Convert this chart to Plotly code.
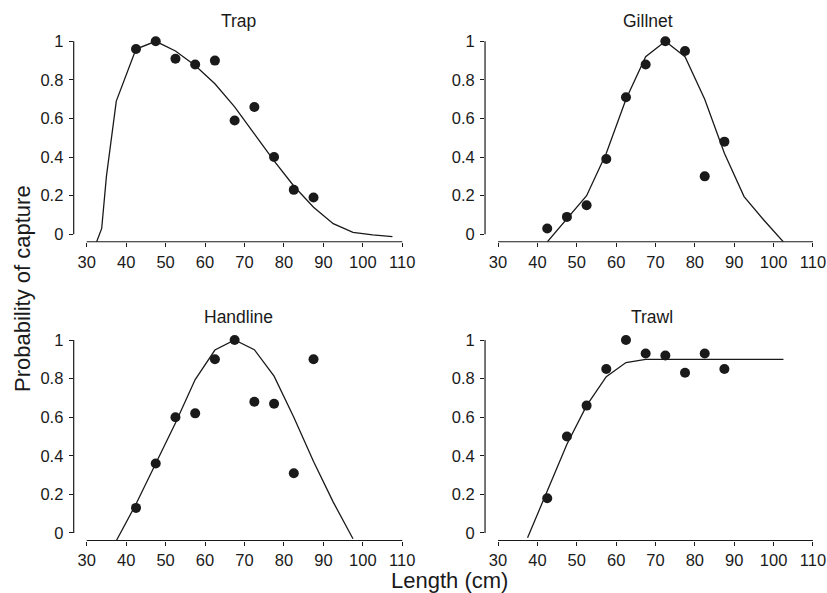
import plotly.graph_objects as go

# ---- data ----
panels = ["Trap", "Gillnet", "Handline", "Trawl"]
obs_x = [42.5, 47.5, 52.5, 57.5, 62.5, 67.5, 72.5, 77.5, 82.5, 87.5]

trap_obs = [0.96, 1.00, 0.91, 0.88, 0.90, 0.59, 0.66, 0.40, 0.23, 0.19]
gillnet_obs = [0.03, 0.09, 0.15, 0.39, 0.71, 0.88, 1.00, 0.95, 0.30, 0.48]
handline_obs = [0.13, 0.36, 0.60, 0.62, 0.90, 1.00, 0.68, 0.67, 0.31, 0.90]
trawl_obs = [0.18, 0.50, 0.66, 0.85, 1.00, 0.93, 0.92, 0.83, 0.93, 0.85]

trap_fit_x = [32.5, 33.8, 35.0, 37.5, 42.5, 47.5, 52.5, 57.5, 62.5, 67.5, 72.5,
              77.5, 82.5, 87.5, 92.5, 97.5, 102.5, 107.5]
trap_fit_y = [-0.04, 0.03, 0.30, 0.69, 0.96, 1.00, 0.95, 0.875, 0.78, 0.66, 0.52,
              0.38, 0.25, 0.14, 0.055, 0.01, -0.003, -0.012]

gillnet_fit_x = [42.5, 47.5, 52.5, 57.5, 62.5, 67.5, 72.5, 77.5, 82.5, 87.5, 92.5,
                 97.5, 102.5]
gillnet_fit_y = [-0.04, 0.08, 0.20, 0.42, 0.70, 0.92, 1.00, 0.92, 0.70, 0.42, 0.195,
                 0.074, -0.04]

handline_fit_x = [37.5, 42.5, 47.5, 52.5, 57.5, 62.5, 67.5, 72.5, 77.5, 82.5, 87.5,
                  92.5, 97.5]
handline_fit_y = [-0.04, 0.15, 0.36, 0.57, 0.795, 0.948, 1.00, 0.95, 0.813, 0.60,
                  0.37, 0.16, -0.03]

trawl_fit_x = [37.5, 42.5, 47.5, 52.5, 57.5, 62.5, 67.5, 72.5, 77.5, 82.5, 87.5,
               92.5, 97.5, 102.5]
trawl_fit_y = [-0.025, 0.22, 0.46, 0.66, 0.81, 0.883, 0.90, 0.90, 0.90, 0.90, 0.90,
               0.90, 0.90, 0.90]

x_ticks = [30, 40, 50, 60, 70, 80, 90, 100, 110]
y_ticks = [0, 0.2, 0.4, 0.6, 0.8, 1]
y_tick_text = ["0", "0.2", "0.4", "0.6", "0.8", "1"]

obs = [trap_obs, gillnet_obs, handline_obs, trawl_obs]
fits = [(trap_fit_x, trap_fit_y), (gillnet_fit_x, gillnet_fit_y),
        (handline_fit_x, handline_fit_y), (trawl_fit_x, trawl_fit_y)]

# ---- layout geometry ----
W, H = 827, 593
FONT = "Liberation Sans, Arial, Helvetica, sans-serif"
INK = "#1a1a1a"
x_range = [26.7, 111]
y_range = [-0.039, 1.03]
x_domains = [[0.0891, 0.4912], [0.5865, 0.9878], [0.0891, 0.4912], [0.5865, 0.9878]]
y_domains = [[0.5923, 0.9401], [0.5923, 0.9401], [0.0885, 0.4364], [0.0885, 0.4364]]
title_pos = [(238 / W, 1 - 20.7 / H), (648 / W, 1 - 20.7 / H),
             (238 / W, 1 - 316.5 / H), (651.5 / W, 1 - 316.5 / H)]

fig = go.Figure()
layout = dict(
    width=W, height=H,
    margin=dict(l=0, r=0, t=0, b=0),
    paper_bgcolor="white", plot_bgcolor="white",
    showlegend=False,
    font=dict(family=FONT, color=INK, size=16),
)
shapes = []
annotations = []

for i, name in enumerate(panels):
    n = "" if i == 0 else str(i + 1)
    xa, ya = "x" + n, "y" + n
    fx, fy = fits[i]
    fig.add_trace(go.Scatter(x=fx, y=fy, mode="lines", xaxis=xa, yaxis=ya,
                             line=dict(color=INK, width=1.3), hoverinfo="skip"))
    fig.add_trace(go.Scatter(x=obs_x, y=obs[i], mode="markers", xaxis=xa, yaxis=ya,
                             cliponaxis=False,
                             marker=dict(color=INK, size=10, line=dict(width=0))))
    layout["xaxis" + n] = dict(
        domain=x_domains[i], range=x_range, anchor=ya,
        tickmode="array", tickvals=x_ticks, ticktext=[str(v) for v in x_ticks],
        ticks="outside", ticklen=4, tickwidth=1, tickcolor=INK,
        showline=False, showgrid=False, zeroline=False, automargin=False,
        tickfont=dict(size=16.5, family=FONT, color=INK), ticklabelstandoff=1,
    )
    layout["yaxis" + n] = dict(
        domain=y_domains[i], range=y_range, anchor=xa,
        tickmode="array", tickvals=y_ticks, ticktext=y_tick_text,
        ticks="outside", ticklen=4, tickwidth=1, tickcolor=INK,
        showline=False, showgrid=False, zeroline=False, automargin=False,
        tickfont=dict(size=16.5, family=FONT, color=INK), ticklabelstandoff=2,
    )
    # R-style detached axis lines
    shapes.append(dict(type="line", xref=xa + " domain", yref=ya,
                       x0=0, x1=0, y0=0, y1=1, line=dict(color=INK, width=1.2)))
    shapes.append(dict(type="line", xref=xa, yref=ya + " domain",
                       x0=30, x1=110, y0=0, y1=0, line=dict(color=INK, width=1.2)))
    annotations.append(dict(text=name, x=title_pos[i][0], y=title_pos[i][1],
                            xref="paper", yref="paper", showarrow=False,
                            xanchor="center", yanchor="middle",
                            font=dict(size=17.5, family=FONT, color=INK)))

annotations.append(dict(text="Probability of capture", x=22.5 / W, y=1 - 288.5 / H,
                        xref="paper", yref="paper", showarrow=False, textangle=-90,
                        xanchor="center", yanchor="middle",
                        font=dict(size=22, family=FONT, color=INK)))
annotations.append(dict(text="Length (cm)", x=449.5 / W, y=1 - 580.5 / H,
                        xref="paper", yref="paper", showarrow=False,
                        xanchor="center", yanchor="middle",
                        font=dict(size=22, family=FONT, color=INK)))

layout["shapes"] = shapes
layout["annotations"] = annotations
fig.update_layout(**layout)
fig.write_html(
    "out.html",
    config={"displayModeBar": False},
    post_script="document.body.style.margin='0';document.body.style.overflow='hidden';",
)
